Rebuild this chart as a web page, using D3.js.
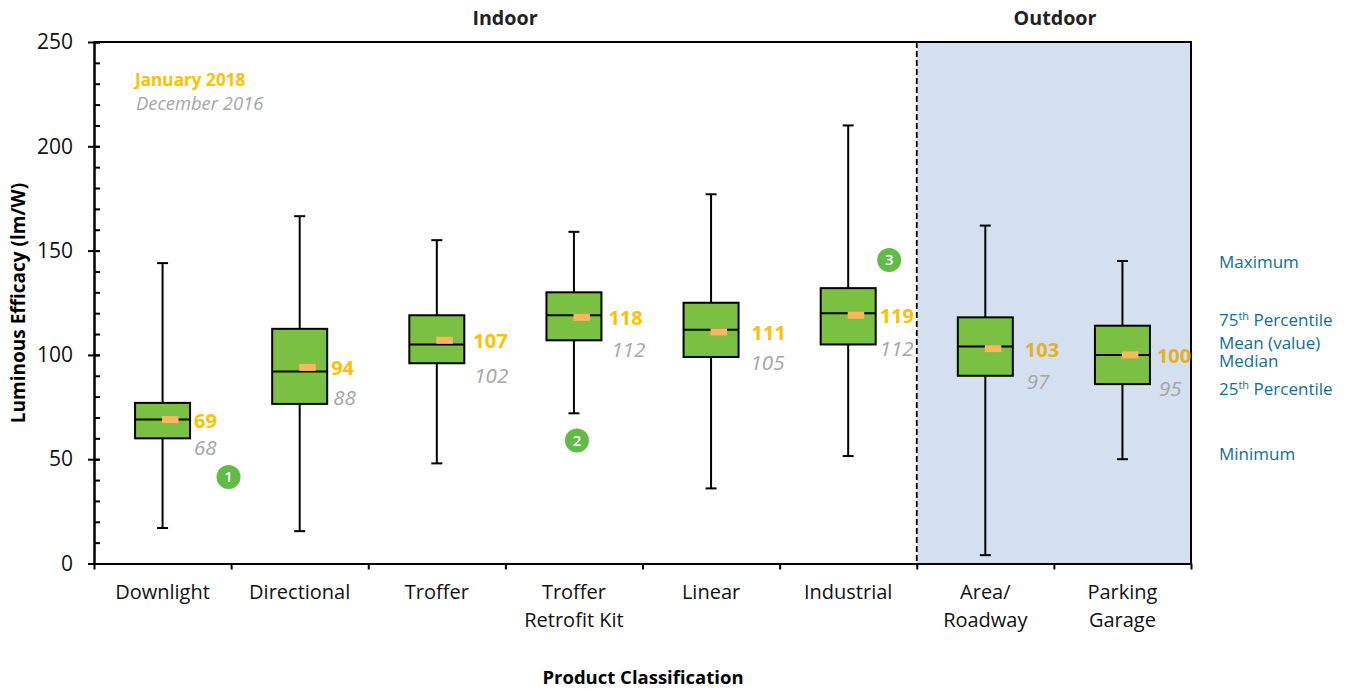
<!DOCTYPE html>
<html>
<head>
<meta charset="utf-8">
<script src="https://cdn.jsdelivr.net/npm/d3@7"></script>
<style>
    html, body { margin: 0; padding: 0; background: #fff; }
    svg { display: block; }
    text { font-family: "Open Sans", "Noto Sans", sans-serif; }
    .domain { stroke: #000; stroke-width: 2px; }
    .tick line { stroke: #000; stroke-width: 2px; }
</style>
</head>
<body>
<div id="chart"></div>
<script>
const categories = ['Downlight', 'Directional', 'Troffer', 'Troffer|Retrofit Kit', 'Linear', 'Industrial', 'Area/|Roadway', 'Parking|Garage'];
const minimum = [17, 15.5, 48, 72, 36, 51.5, 4, 50];
const q1 = [60, 76.5, 96, 107, 99, 105, 90, 86];
const median = [69, 92, 105, 119, 112, 120, 104, 100];
const q3 = [77, 112.5, 119, 130, 125, 132, 118, 114];
const maximum = [144, 166.5, 155, 159, 177, 210, 162, 145];
const mean2018 = [69, 94, 107, 118, 111, 119, 103, 100];
const mean2016 = [68, 88, 102, 112, 105, 112, 97, 95];

// label nudges so the numbers don't sit on the boxes
const labelDx2018 = [4, 4, 9, 7, 13, 4, 12, 7];
const labelDx2016 = [4, 6, 10, 10, 12, 4, 14, 9];
const labelDy2016 = [26, 18, 25, 20, 19, 19, 21, 24];

const notes = [
    { label: '1', cat: 0, value: 41.5, dx: 66 },
    { label: '2', cat: 3, value: 59, dx: 3 },
    { label: '3', cat: 5, value: 145.5, dx: 41 }
];
const keyLabels = [
    { text: 'Maximum', py: 262 },
    { text: '75|th| Percentile', py: 320 },
    { text: 'Mean (value)', py: 343 },
    { text: 'Median', py: 361 },
    { text: '25|th| Percentile', py: 389 },
    { text: 'Minimum', py: 454 }
];

const width = 1351, height = 689;
const plotLeft = 94, plotRight = 1191, plotTop = 42, plotBottom = 563.5;
const boxWidth = 55, capWidth = 11, meanW = 16.5, meanH = 7;

const svg = d3.select('#chart').append('svg')
    .attr('width', width)
    .attr('height', height);

const x = d3.scaleBand().domain(d3.range(categories.length)).range([plotLeft, plotRight]);
const y = d3.scaleLinear().domain([0, 250]).range([plotBottom, plotTop]);
const cx = i => x(i) + x.bandwidth() / 2;

// outdoor shading + divider
const divider = x(6);
svg.append('rect')
    .attr('x', divider)
    .attr('y', plotTop)
    .attr('width', plotRight - divider)
    .attr('height', plotBottom - plotTop)
    .attr('fill', '#d4dfef');
svg.append('line')
    .attr('x1', divider).attr('x2', divider)
    .attr('y1', plotTop).attr('y2', plotBottom)
    .attr('stroke', '#000')
    .attr('stroke-width', 1.8)
    .attr('stroke-dasharray', '6,3');

// axes
const yMinor = d3.axisLeft(y)
    .tickValues(d3.range(0, 251, 10))
    .tickSize(-6)
    .tickFormat(() => '');
svg.append('g').attr('transform', `translate(${plotLeft},0)`).call(yMinor);

const yMajor = d3.axisLeft(y)
    .tickValues([0, 50, 100, 150, 200, 250])
    .tickSizeOuter(0)
    .tickSizeInner(6)
    .tickPadding(8);
const yAxis = svg.append('g').attr('transform', `translate(${plotLeft},0)`).call(yMajor);
yAxis.selectAll('text').attr('font-size', 21).attr('fill', '#111').attr('x', -21);
yAxis.selectAll('.tick line').attr('x1', 6).attr('x2', -6);
yAxis.select('.tick:last-of-type line').attr('x1', 0);

const xAxis = d3.axisBottom(d3.scaleLinear().domain([0, categories.length]).range([plotLeft, plotRight]))
    .ticks(categories.length)
    .tickSizeOuter(0)
    .tickSizeInner(6)
    .tickFormat(() => '');
svg.append('g').attr('transform', `translate(0,${plotBottom})`).call(xAxis);

// top and right frame
svg.append('path')
    .attr('d', d3.line()([[plotLeft, plotTop], [plotRight, plotTop], [plotRight, plotBottom]]))
    .attr('fill', 'none')
    .attr('stroke', '#000')
    .attr('stroke-width', 2);

// category labels
categories.forEach((c, i) => {
    const t = svg.append('text')
        .attr('x', cx(i))
        .attr('text-anchor', 'middle')
        .attr('font-size', 20)
        .attr('fill', '#111');
    c.split('|').forEach((part, j) => {
        t.append('tspan')
            .attr('x', cx(i))
            .attr('y', 599 + j * 27.5)
            .text(part);
    });
});

// boxes
const box = svg.selectAll('.box')
    .data(d3.range(categories.length))
    .join('g')
    .attr('class', 'box');

box.append('line')
    .attr('x1', cx).attr('x2', cx)
    .attr('y1', i => y(maximum[i])).attr('y2', i => y(minimum[i]))
    .attr('stroke', '#000').attr('stroke-width', 2);
[maximum, minimum].forEach(vals => {
    box.append('line')
        .attr('x1', i => cx(i) - capWidth / 2).attr('x2', i => cx(i) + capWidth / 2)
        .attr('y1', i => y(vals[i])).attr('y2', i => y(vals[i]))
        .attr('stroke', '#000').attr('stroke-width', 2);
});
box.append('rect')
    .attr('x', i => cx(i) - boxWidth / 2)
    .attr('y', i => y(q3[i]))
    .attr('width', boxWidth)
    .attr('height', i => y(q1[i]) - y(q3[i]))
    .attr('fill', '#7ac143')
    .attr('stroke', '#000')
    .attr('stroke-width', 2);
box.append('line')
    .attr('x1', i => cx(i) - boxWidth / 2).attr('x2', i => cx(i) + boxWidth / 2)
    .attr('y1', i => y(median[i])).attr('y2', i => y(median[i]))
    .attr('stroke', '#000').attr('stroke-width', 2);
box.append('rect')
    .attr('x', i => cx(i) - 0.5)
    .attr('y', i => y(mean2018[i]) - meanH / 2)
    .attr('width', meanW)
    .attr('height', meanH)
    .attr('fill', '#fbb65f');

// value labels
box.append('text')
    .attr('x', i => cx(i) + boxWidth / 2 + labelDx2018[i])
    .attr('y', i => y(mean2018[i]) + 8)
    .attr('font-size', 20)
    .attr('font-weight', 700)
    .attr('fill', i => i >= 6 ? '#e3b128' : '#ffc000')
    .text(i => mean2018[i]);
box.append('text')
    .attr('x', i => cx(i) + boxWidth / 2 + labelDx2016[i])
    .attr('y', i => y(mean2016[i]) + 7 + labelDy2016[i])
    .attr('font-size', 20.5)
    .attr('font-style', 'italic')
    .attr('fill', '#a6a6a6')
    .text(i => mean2016[i]);

// numbered notes
const note = svg.selectAll('.note').data(notes).join('g').attr('class', 'note');
note.append('circle')
    .attr('cx', d => cx(d.cat) + d.dx)
    .attr('cy', d => y(d.value))
    .attr('r', 12)
    .attr('fill', '#62bb46');
note.append('text')
    .attr('x', d => cx(d.cat) + d.dx)
    .attr('y', d => y(d.value) + 5.5)
    .attr('text-anchor', 'middle')
    .attr('font-size', 15)
    .attr('font-weight', 600)
    .attr('fill', '#fff')
    .text(d => d.label);

// key for the box parts
keyLabels.forEach(k => {
    const t = svg.append('text')
        .attr('x', 1219)
        .attr('y', k.py + 6)
        .attr('font-size', 17)
        .attr('fill', '#0f6f94');
    k.text.split('|').forEach((part, j) => {
        const s = t.append('tspan').text(part);
        if (j === 1) s.attr('font-size', 11).attr('dy', -6);
        if (j === 2) s.attr('dy', 6);
    });
});

// headings and legend
const heading = (txt, px, py, size, fill) => svg.append('text')
    .attr('x', px).attr('y', py)
    .attr('font-size', size)
    .attr('fill', fill)
    .attr('font-weight', 700)
    .attr('text-anchor', 'middle')
    .text(txt);

heading('Indoor', 505, 25, 19.7, '#222');
heading('Outdoor', 1055, 25, 19.7, '#222');
heading('Product Classification', 643, 684, 18.5, '#000');
heading('Luminous Efficacy (lm/W)', 0, 0, 19, '#000')
    .attr('transform', 'translate(25,303) rotate(-90)');

svg.append('text')
    .attr('x', 135).attr('y', 86)
    .attr('font-size', 17.2)
    .attr('font-weight', 700)
    .attr('fill', '#ffc000')
    .text('January 2018');
svg.append('text')
    .attr('x', 136).attr('y', 110)
    .attr('font-size', 18.4)
    .attr('font-style', 'italic')
    .attr('fill', '#a6a6a6')
    .text('December 2016');
</script>
</body>
</html>
